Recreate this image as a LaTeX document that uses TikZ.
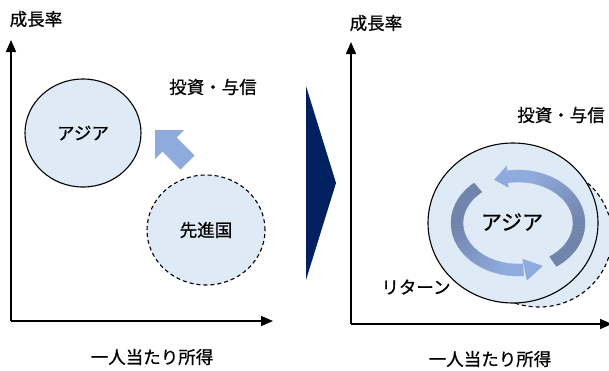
\documentclass[tikz,border=0pt]{standalone}
\usepackage{fontspec}
\setmainfont{Noto Sans CJK JP}[FakeBold=0.8]
\usetikzlibrary{arrows.meta,shapes.geometric}
\definecolor{fillblue}{HTML}{DEEAF6}
\definecolor{arrowlight}{HTML}{8FAADC}
\definecolor{arrowdark}{HTML}{7184AC}
\definecolor{navyblue}{HTML}{002060}
\begin{document}
\begin{tikzpicture}[x=1pt,y=-1pt,
  bubble/.style={ellipse, draw=black, line width=1.1pt, fill=fillblue, inner sep=0pt},
  dashbubble/.style={bubble, dash pattern=on 4pt off 3pt},
  lbl/.style={font=\fontsize{17.5}{20}\selectfont, inner sep=0pt},
  axisline/.style={line width=1.4pt, -{Triangle[length=12pt,width=10pt]}}]
\useasboundingbox (0,0) rectangle (609,370);
% ---------- left panel ----------
\coordinate (oL) at (11,321);
\coordinate (yL) at (11,40);
\coordinate (xL) at (273,321);
\draw[axisline] (oL) -- (yL);
\draw[axisline] (oL) -- (xL);
\node[lbl] (ylabL) at (36,19) {成長率};
\node[lbl] (xlabL) at (152,357) {一人当たり所得};
\node[lbl] (invL) at (213,87) {投資・与信};
\node[bubble, minimum width=116pt, minimum height=108pt, font=\fontsize{17.5}{20}\selectfont] (asiaL) at (83,133) {アジア};
\node[dashbubble, minimum width=118pt, minimum height=110pt, font=\fontsize{17.5}{20}\selectfont] (devL) at (206,230) {先進国};
\fill[arrowlight] (155,130) -- (184,130) -- (176.6,137.4) -- (194.6,155.4) -- (180.4,169.6) -- (162.4,151.6) -- (155,159) -- cycle;
% ---------- middle triangle ----------
\fill[navyblue] (306,86) -- (336,183) -- (306,280) -- cycle;
% ---------- right panel ----------
\coordinate (oR) at (351,324);
\coordinate (yR) at (351,42);
\coordinate (xR) at (612,324);
\draw[axisline] (oR) -- (yR);
\draw[axisline] (oR) -- (xR);
\node[lbl] (ylabR) at (376,23) {成長率};
\node[lbl] (xlabR) at (490,359) {一人当たり所得};
\node[lbl] (invR) at (561,115) {投資・与信};
\node[lbl] (retR) at (416,287) {リターン};
\node[dashbubble, minimum width=146pt, minimum height=142pt] (devR) at (539,236) {};
\node[bubble, minimum width=170pt, minimum height=160pt] (asiaR) at (513,223) {};
\begin{scope}[shift={(518,223)}]
  % upper arrow
  \foreach \a in {-55,-51,...,97} {
    \pgfmathsetmacro\b{\a+4}
    \pgfmathtruncatemacro\p{min(100,max(0,(\a)*100/75))}
    \colorlet{segc}{arrowlight!\p!arrowdark}
    \fill[segc, draw=segc, line width=0.3pt] ({67*cos(\a)},{-53*sin(\a)}) -- ({67*cos(\b)},{-53*sin(\b)}) -- ({55*cos(\b)},{-41*sin(\b)}) -- ({55*cos(\a)},{-41*sin(\a)}) -- cycle;
  }
  \fill[arrowlight] ({72*cos(99)},{-58*sin(99)}) -- ({61*cos(113)},{-47*sin(113)}) -- ({50*cos(101)},{-36*sin(101)}) -- cycle;
  % lower arrow
  \foreach \a in {131,135,...,273} {
    \pgfmathsetmacro\b{\a+4}
    \pgfmathtruncatemacro\p{min(100,max(0,(\a-185)*100/70))}
    \colorlet{segc}{arrowlight!\p!arrowdark}
    \fill[segc, draw=segc, line width=0.3pt] ({67*cos(\a)},{-53*sin(\a)}) -- ({67*cos(\b)},{-53*sin(\b)}) -- ({55*cos(\b)},{-41*sin(\b)}) -- ({55*cos(\a)},{-41*sin(\a)}) -- cycle;
  }
  \fill[arrowlight] ({72*cos(277)},{-58*sin(277)}) -- ({61*cos(294)},{-47*sin(294)}) -- ({50*cos(275)},{-36*sin(275)}) -- cycle;
\end{scope}
\node[lbl, font=\fontsize{21}{24}\selectfont] (asiaRtxt) at (512,222) {アジア};
\end{tikzpicture}
\end{document}
